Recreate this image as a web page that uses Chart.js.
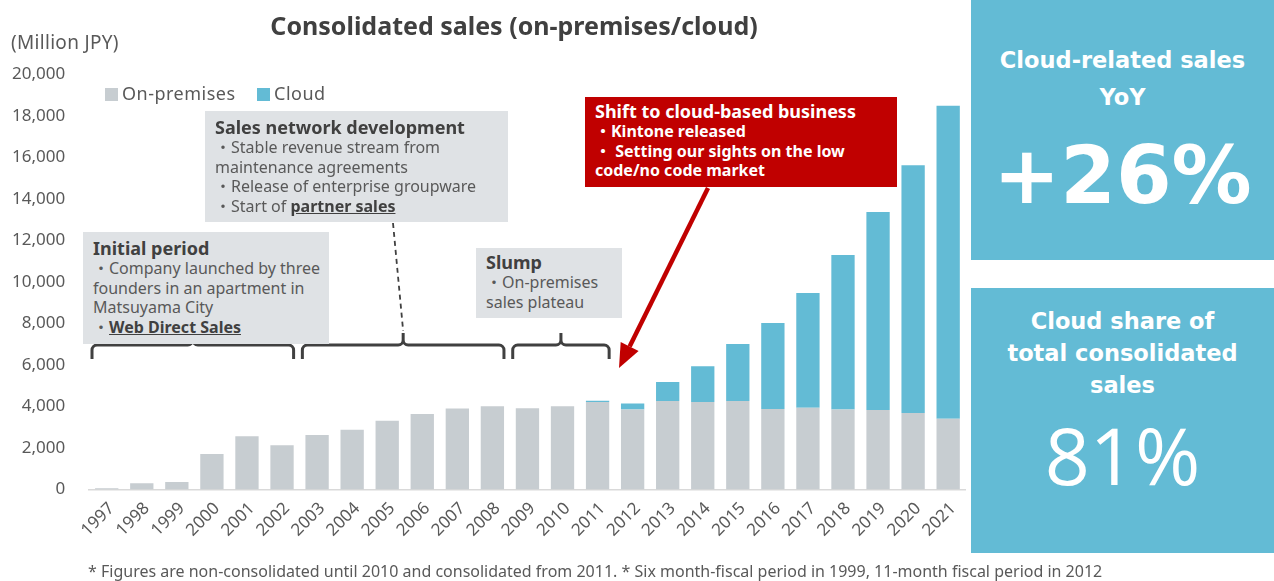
<!DOCTYPE html>
<html><head><meta charset="utf-8">
<script src="https://cdn.jsdelivr.net/npm/chart.js@4.4.0/dist/chart.umd.min.js"></script>
<style>
html,body{margin:0;padding:0;background:#fff;}
#wrap{position:relative;width:1274px;height:581px;overflow:hidden;font-family:'Noto Sans','Noto Sans CJK JP',sans-serif;color:#595959;}
#c{position:absolute;left:0;top:0;}
.abs{position:absolute;white-space:nowrap;}
.box{position:absolute;background:#dfe2e5;box-sizing:border-box;font-size:16px;line-height:19.6px;color:#595959;white-space:nowrap;padding-left:10px;}
.box .h{font-weight:bold;font-size:18px;line-height:22px;color:#404040;}
.box b{color:#404040;text-decoration:underline;}
.red{background:#c00000;color:#fff;font-weight:bold;}
.red .h{color:#fff;}
.panel{position:absolute;left:971px;width:303px;background:#63bbd5;color:#fff;font-family:'DejaVu Sans',sans-serif;}
.panel .t{position:absolute;left:0;width:100%;text-align:center;font-weight:bold;font-size:22.5px;line-height:32px;white-space:nowrap;}
.sw{display:inline-block;width:13px;height:13px;margin-right:4px;vertical-align:-1px;}
</style></head>
<body>
<div id="wrap">
<canvas id="c" width="1274" height="581"></canvas>
<div class="abs" style="left:0;width:1028px;top:9px;text-align:center;font-size:25px;line-height:32px;font-weight:bold;color:#404040;">Consolidated sales (on-premises/cloud)</div>
<div class="abs" style="left:11px;top:30px;font-size:19px;line-height:24px;letter-spacing:0.3px;">(Million JPY)</div>
<div id="legend"></div>

<div class="box" style="left:205px;top:111px;width:303px;height:111px;padding-top:5px;">
<div class="h">Sales network development</div>
<div>・Stable revenue stream from</div>
<div>maintenance agreements</div>
<div>・Release of enterprise groupware</div>
<div>・Start of <b>partner sales</b></div>
</div>
<div class="box" style="left:83px;top:232px;width:246px;height:112px;padding-top:5px;">
<div class="h">Initial period</div>
<div>・Company launched by three</div>
<div>founders in an apartment in</div>
<div>Matsuyama City</div>
<div>・<b>Web Direct Sales</b></div>
</div>
<div class="box" style="left:476px;top:248px;width:146px;height:70px;padding-top:3px;">
<div class="h">Slump</div>
<div>・On-premises</div>
<div>sales plateau</div>
</div>
<div class="box red" style="left:585px;top:97px;width:312px;height:90px;padding-top:3px;">
<div class="h">Shift to cloud-based business</div>
<div>・Kintone released</div>
<div>・ Setting our sights on the low</div>
<div>code/no code market</div>
</div>

<div class="panel" style="top:0;height:260px;">
<div class="t" style="top:44px;">Cloud-related sales</div>
<div class="t" style="top:81px;">YoY</div>
<div class="t" style="top:136px;font-size:80px;line-height:80px;">+26%</div>
</div>
<div class="panel" style="top:288px;height:265px;">
<div class="t" style="top:17px;">Cloud share of</div>
<div class="t" style="top:49px;">total consolidated</div>
<div class="t" style="top:81px;">sales</div>
<div class="t" style="top:128px;font-family:'Open Sans',sans-serif;font-weight:500;font-size:79px;line-height:78px;">81%</div>
</div>

<div class="abs" style="left:88px;top:560px;font-size:16px;line-height:22px;">* Figures are non-consolidated until 2010 and consolidated from 2011. * Six month-fiscal period in 1999, 11-month fiscal period in 2012</div>
</div>

<script>
const years = ['1997','1998','1999','2000','2001','2002','2003','2004','2005','2006','2007','2008','2009','2010','2011','2012','2013','2014','2015','2016','2017','2018','2019','2020','2021'];
const onPremises = [60,300,360,1710,2570,2130,2630,2880,3310,3640,3900,4010,3910,4010,4220,3850,4265,4220,4265,3880,3940,3850,3830,3690,3410];
const cloud = [0,0,0,0,0,0,0,0,0,0,0,0,0,0,60,290,915,1720,2745,4140,5530,7450,9540,11940,15090];
const seriesNames = ['On-premises','Cloud'];
const seriesColors = ['#c7cdd1','#63bbd5'];
const yTickMin = 0, yTickMax = 20000, yTickStep = 2000;
const braceSpans = [['1997','2002'],['2003','2008'],['2009','2011']];

// HTML legend from series
const lg = document.getElementById('legend');
const legendX = [105, 257];
seriesNames.forEach((n,i)=>{
  const d = document.createElement('div');
  d.className='abs';
  d.style.cssText = 'left:'+legendX[i]+'px;top:81px;font-size:18px;line-height:24px;letter-spacing:0.5px;';
  d.innerHTML = '<span class="sw" style="background:'+seriesColors[i]+'"></span>'+n;
  lg.appendChild(d);
});

const annot = {
  id:'annot',
  afterDraw(chart){
    const ctx = chart.ctx, xs = chart.scales.x;
    const step = xs.getPixelForValue(1) - xs.getPixelForValue(0);
    ctx.save();
    ctx.strokeStyle = '#404040'; ctx.lineWidth = 3; ctx.lineJoin='round'; ctx.lineCap='butt';
    const yl = 345, yb = 359, yp = 333, r = 5;
    const mids = [];
    braceSpans.forEach(([a,b])=>{
      const x1 = xs.getPixelForValue(years.indexOf(a)) - 0.42*step;
      const x2 = xs.getPixelForValue(years.indexOf(b)) + 0.33*step;
      const xm = (x1+x2)/2; mids.push(xm);
      ctx.beginPath();
      ctx.moveTo(x1, yb);
      ctx.lineTo(x1, yl+r);
      ctx.arcTo(x1, yl, x1+r, yl, r);
      ctx.lineTo(xm-r, yl);
      ctx.arcTo(xm, yl, xm, yl-r, r);
      ctx.lineTo(xm, yp);
      ctx.moveTo(xm, yl-r);
      ctx.arcTo(xm, yl, xm+r, yl, r);
      ctx.lineTo(x2-r, yl);
      ctx.arcTo(x2, yl, x2, yl+r, r);
      ctx.lineTo(x2, yb);
      ctx.stroke();
    });
    // dashed connector
    ctx.lineWidth = 1.8; ctx.setLineDash([5,4]);
    ctx.beginPath(); ctx.moveTo(393, 223); ctx.lineTo(mids[1], yp-2); ctx.stroke();
    ctx.setLineDash([]);
    // red arrow
    const sx = 708, sy = 188, tx = 619, ty = 368;
    const ang = Math.atan2(ty-sy, tx-sx), hl = 24, hw = 10;
    const bx = tx - hl*Math.cos(ang), by = ty - hl*Math.sin(ang);
    ctx.strokeStyle = '#c00000'; ctx.fillStyle = '#c00000'; ctx.lineWidth = 4.5;
    ctx.beginPath(); ctx.moveTo(sx, sy); ctx.lineTo(bx, by); ctx.stroke();
    ctx.beginPath();
    ctx.moveTo(tx, ty);
    ctx.lineTo(bx + hw*Math.sin(ang), by - hw*Math.cos(ang));
    ctx.lineTo(bx - hw*Math.sin(ang), by + hw*Math.cos(ang));
    ctx.closePath(); ctx.fill();
    ctx.restore();
  }
};

const FONT = "'Noto Sans','Noto Sans CJK JP',sans-serif";
new Chart(document.getElementById('c'), {
  type:'bar',
  data:{
    labels: years,
    datasets:[
      {label:seriesNames[0], data:onPremises, backgroundColor:seriesColors[0], barPercentage:0.665, categoryPercentage:1},
      {label:seriesNames[1], data:cloud, backgroundColor:seriesColors[1], barPercentage:0.665, categoryPercentage:1}
    ]
  },
  options:{
    responsive:false, animation:false, devicePixelRatio:1,
    layout:{padding:{left:0,right:308.3,top:74.5,bottom:0}},
    plugins:{legend:{display:false},tooltip:{enabled:false},title:{display:false}},
    scales:{
      x:{stacked:true, grid:{display:false, drawTicks:false}, border:{display:true,color:'#d9d9d9',width:1.5},
         ticks:{color:'#595959', font:{family:FONT,size:17}, maxRotation:45, minRotation:45, padding:9, labelOffset:5, autoSkip:false},
         afterFit(s){ s.height = 91.5; }},
      y:{stacked:true, min:yTickMin, max:yTickMax,
         grid:{display:false, drawTicks:false}, border:{display:false},
         ticks:{stepSize:yTickStep, color:'#595959', font:{family:FONT,size:17}, padding:24,
                callback:v=>v.toLocaleString('en-US')},
         afterFit(s){ s.width = 89.2; }}
    }
  },
  plugins:[annot]
});
</script>
</body></html>
